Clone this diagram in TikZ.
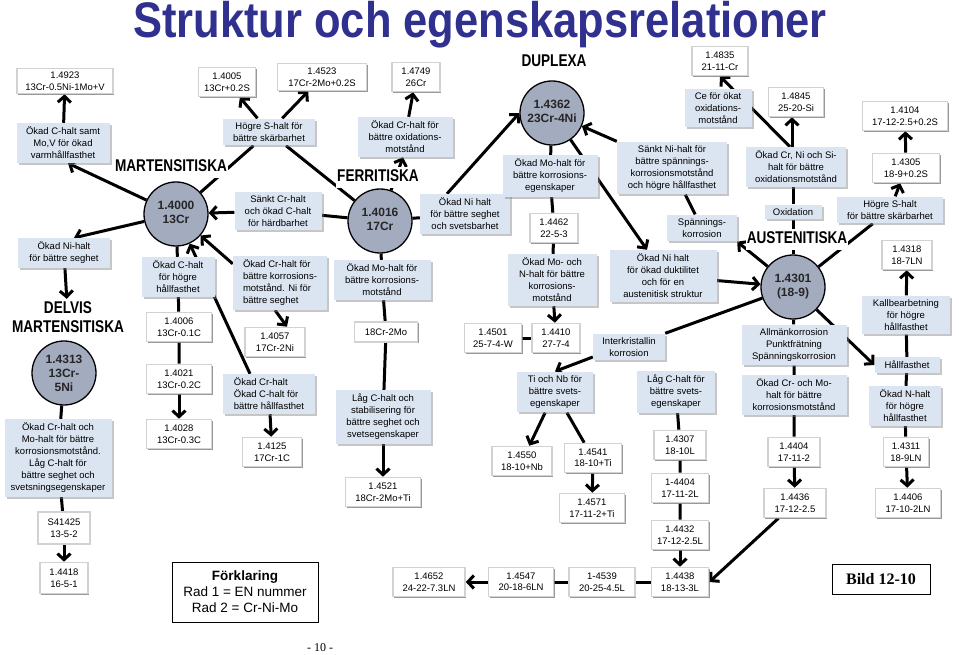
\documentclass[tikz,border=0pt]{standalone}
\usepackage{fontspec}
\usepackage{graphicx}
\setmainfont{Liberation Sans}
\newfontfamily\serifont{Liberation Serif}
\usetikzlibrary{positioning,shadows,arrows.meta,backgrounds}
\definecolor{notebg}{RGB}{219,229,241}
\definecolor{steelfill}{RGB}{163,171,191}
\definecolor{titleblue}{RGB}{48,48,143}
\newcommand{\narrow}[1]{\scalebox{0.8}[1]{\begin{tabular}{@{}c@{}}#1\end{tabular}}}
\newcommand{\lift}[1]{\raisebox{12pt}{\begin{tabular}{@{}c@{}}#1\end{tabular}}}

\begin{document}
\begin{tikzpicture}[x=1pt, y=-1pt,
    grade/.style={fill=white, draw=gray!35, line width=1.6pt, align=center, font=\fontsize{9.5}{11.5}\selectfont, inner xsep=4pt, inner ysep=1.5pt, minimum width=#1, minimum height=29, drop shadow={shadow xshift=1.3pt, shadow yshift=-1.3pt, opacity=0.8, fill=gray}},
    grade/.default=48,
    note/.style={fill=notebg, align=center, font=\fontsize{9.5}{12}\selectfont, inner xsep=4pt, inner ysep=4pt, minimum width=#1, drop shadow={shadow xshift=2pt, shadow yshift=-2pt, opacity=0.45, fill=gray}},
    note/.default=60,
    steel/.style={draw, circle, line width=1.3pt, fill=steelfill, minimum size=64pt, inner sep=0pt, align=center, font=\bfseries\fontsize{12}{14}\selectfont, text=black!85},
    group/.style={font=\bfseries\fontsize{17}{19}\selectfont, fill=white, inner sep=1pt},
    link/.style={line width=3pt},
    arr/.style={link, -{Straight Barb[length=6pt, width=13pt]}}
]
\useasboundingbox (0,0) rectangle (959,655);

% title
\node[anchor=base, text=titleblue, font=\bfseries\fontsize{50}{50}\selectfont] (title) at (480,38) {\scalebox{0.87}[1]{Struktur och egenskapsrelationer}};

% martensitiska
\node[grade=96, minimum height=25] (b4923) at (65,81) {1.4923\\13Cr-0.5Ni-1Mo+V};
\node[note=93] (n1) at (63,143) {Ökad C-halt samt\\Mo,V för ökad\\varmhållfasthet};
\node[group] (gMart) at (171,168) {\narrow{MARTENSITISKA}};
\node[steel] (c4000) at (176,214) {\lift{1.4000\\13Cr}};
\node[note=92] (n2) at (64,253) {Ökad Ni-halt\\för bättre seghet};
\node[group] (gDelvis) at (68,319) {\narrow{DELVIS\\MARTENSITISKA}};
\node[steel] (c4313) at (64,373) {1.4313\\13Cr-\\5Ni};
\node[note=107] (n3) at (58,458) {Ökad Cr-halt och\\Mo-halt för bättre\\korrosionsmotstånd.\\Låg C-halt för\\bättre seghet och\\svetsningsegenskaper};
\node[grade=52, minimum height=32] (bS41425) at (64,528) {S41425\\13-5-2};
\node[grade=48, minimum height=31] (b4418) at (64,578) {1.4418\\16-5-1};

\node[grade=57] (b4005) at (227,82) {1.4005\\13Cr+0.2S};
\node[grade=89, minimum height=27] (b4523) at (322,77) {1.4523\\17Cr-2Mo+0.2S};
\node[note=92] (n4) at (269,132) {Högre S-halt för\\bättre skärbarhet};
\node[note=87] (n5) at (278,211) {Sänkt Cr-halt\\och ökad C-halt\\för härdbarhet};
\node[note=73] (n6) at (178,277) {Ökad C-halt\\för högre\\hållfasthet};
\node[note=94, align=left] (n7) at (280,283) {Ökad Cr-halt för\\bättre korrosions-\\motstånd. Ni för\\bättre seghet};
\node[grade=65] (b4006) at (179,327) {1.4006\\13Cr-0.1C};
\node[grade=65] (b4021) at (179,379) {1.4021\\13Cr-0.2C};
\node[grade=65] (b4028) at (179,434) {1.4028\\13Cr-0.3C};
\node[grade=60] (b4057) at (275,342) {1.4057\\17Cr-2Ni};
\node[note=92, align=left] (n8) at (269,394) {Ökad Cr-halt\\Ökad C-halt för\\bättre hållfasthet};
\node[grade=59] (b4125) at (272,452) {1.4125\\17Cr-1C};

% ferritiska
\node[grade=48] (b4749) at (416,77) {1.4749\\26Cr};
\node[note=95] (n9) at (405,137) {Ökad Cr-halt för\\bättre oxidations-\\motstånd};
\node[group] (gFerr) at (378,178) {\narrow{FERRITISKA}};
\node[steel] (c4016) at (380,221) {\lift{1.4016\\17Cr}};
\node[note=90] (n10) at (465,214) {Ökad Ni halt\\för bättre seghet\\och svetsbarhet};
\node[note=97] (n11) at (382,280) {Ökad Mo-halt för\\bättre korrosions-\\motstånd};
\node[grade=63, minimum height=20] (b182) at (386,332) {18Cr-2Mo};
\node[note=95] (n12) at (383,417) {Låg C-halt och\\stabilisering för\\bättre seghet och\\svetsegenskaper};
\node[grade=75] (b4521) at (383,492) {1.4521\\18Cr-2Mo+Ti};

% duplexa
\node[group] (gDup) at (554,63) {\narrow{DUPLEXA}};
\node[steel] (c4362) at (552,113) {\lift{1.4362\\23Cr-4Ni}};
\node[note=95] (n13) at (550,176) {Ökad Mo-halt för\\bättre korrosions-\\egenskaper};
\node[grade=48] (b4462) at (554,228) {1.4462\\22-5-3};
\node[note=89] (n14) at (552,280) {Ökad Mo- och\\N-halt för bättre\\korrosions-\\motstånd};
\node[grade=57] (b4501) at (493,338) {1.4501\\25-7-4-W};
\node[grade=48] (b4410) at (556,338) {1.4410\\27-7-4};
\node[note=110] (n16) at (672,168) {Sänkt Ni-halt för\\bättre spännings-\\korrosionsmotstånd\\och högre hållfasthet};
\node[note=70] (n17) at (702,228) {Spännings-\\korrosion};
\node[note=107] (n15) at (663,276) {Ökad Ni halt\\för ökad duktilitet\\och för en\\austenitisk struktur};
\node[note=72] (n18) at (629,347) {Interkristallin\\korrosion};
\node[note=76] (n19) at (555,392) {Ti och Nb för\\bättre svets-\\egenskaper};
\node[grade=60] (b4550) at (522,461) {1.4550\\18-10+Nb};
\node[grade=57] (b4541) at (593,458) {1.4541\\18-10+Ti};
\node[grade=65] (b4571) at (592,508) {1.4571\\17-11-2+Ti};
\node[note=78] (n20) at (676,392) {Låg C-halt för\\bättre svets-\\egenskaper};
\node[grade=52] (b4307) at (680,445) {1.4307\\18-10L};
\node[grade=57] (b4404L) at (680,488) {1-4404\\17-11-2L};
\node[grade=57] (b4432) at (680,535) {1.4432\\17-12-2.5L};
\node[grade=57] (b4438) at (680,582) {1.4438\\18-13-3L};
\node[grade=66] (b4539) at (602,582) {1-4539\\20-25-4.5L};
\node[grade=65] (b4547) at (521,582) {1.4547\\20-18-6LN};
\node[grade=72] (b4652) at (429,582) {1.4652\\24-22-7.3LN};

% austenitiska
\node[grade=56] (b4835) at (720,61) {1.4835\\21-11-Cr};
\node[note=67] (n21) at (718,108) {Ce för ökat\\oxidations-\\motstånd};
\node[grade=55] (b4845) at (796,102) {1.4845\\25-20-Si};
\node[note=100] (n22) at (796,167) {Ökad Cr, Ni och Si-\\halt för bättre\\oxidationsmotstånd};
\node[note=57] (n23) at (793,212) {Oxidation};
\node[group] (gAust) at (797,240) {\narrow{AUSTENITISKA}};
\node[steel] (c4301) at (793,287) {\lift{1.4301\\(18-9)}};
\node[grade=85] (b4104) at (905,116) {1.4104\\17-12-2.5+0.2S};
\node[grade=67] (b4305) at (906,168) {1.4305\\18-9+0.2S};
\node[note=106] (n24) at (890,210) {Högre S-halt\\för bättre skärbarhet};
\node[grade=50] (b4318) at (907,255) {1.4318\\18-7LN};
\node[note=88] (n25) at (906,315) {Kallbearbetning\\för högre\\hållfasthet};
\node[note=65] (n26) at (907,365) {Hållfasthet};
\node[note=72] (n27) at (905,406) {Ökad N-halt\\för högre\\hållfasthet};
\node[grade=45] (b4311) at (906,452) {1.4311\\18-9LN};
\node[grade=65] (b4406) at (908,503) {1.4406\\17-10-2LN};
\node[note=105] (n28) at (794,345) {Allmänkorrosion\\Punktfrätning\\Spänningskorrosion};
\node[note=105] (n29) at (794,395) {Ökad Cr- och Mo-\\halt för bättre\\korrosionsmotstånd};
\node[grade=52] (b4404) at (794,452) {1.4404\\17-11-2};
\node[grade=62] (b4436) at (795,503) {1.4436\\17-12-2.5};

% legend and captions
\node[draw, line width=0.8pt, align=center, font=\fontsize{13.5}{16}\selectfont, minimum width=146, minimum height=60] (legend) at (245,592) {\textbf{Förklaring}\\Rad 1 = EN nummer\\Rad 2 = Cr-Ni-Mo};
\node[draw, line width=0.8pt, font=\serifont\bfseries\fontsize{16}{18}\selectfont, minimum width=98, minimum height=30] (bild) at (881,579) {Bild 12-10};
\node[font=\serifont\fontsize{12}{14}\selectfont] (page) at (320,648) {- 10 -};

% connectors behind the boxes
\begin{pgfonlayer}{background}
\draw[arr] (n1) -- (b4923);
\draw[arr] (c4000) -- ([xshift=5pt]n1.south);
\draw[arr] (c4000) -- ([xshift=10pt]n2.north);
\draw[arr] (n2) -- (gDelvis);
\draw[link] (c4313) -- (n3) -- (bS41425);
\draw[arr] (bS41425) -- (b4418);
\draw[link] (c4000) -- (n4);
\draw[link] (n4) -- (c4016);
\draw[arr] (n4) -- (b4005);
\draw[arr] (n4) -- (b4523);
\draw[link] (c4016) -- (n5);
\draw[arr] (n5) -- (c4000);
\draw[link] (c4000) -- (n6) -- (b4006) -- (b4021);
\draw[arr] (b4021) -- (b4028);
\draw[arr] ([yshift=-8pt]n7.north west) -- (c4000);
\draw[arr] ([xshift=-19pt]n8.north) -- (c4000);
\draw[arr] ([xshift=-5pt]n7.south) -- ([xshift=12pt]b4057.north);
\draw[arr] (n8) -- (b4125);

\draw[arr] (n9) -- (b4749);
\draw[arr] (c4016) -- ([xshift=-2pt]n9.south);
\draw[link] (c4016) -- (n10);
\draw[arr] ([xshift=-18pt]n10.north) -- (c4362.west);
\draw[link] (c4016) -- (n11) -- (b182) -- (n12);
\draw[arr] (n12) -- (b4521);

\draw[link] (c4362) -- (n13) -- (b4462) -- (n14);
\draw[arr] (n14) -- (b4410);
\draw[link] (b4501) -- (b4410);
\draw[arr] (c4362) -- ([xshift=-16pt]n15.north);
\draw[arr] (n16.north west) -- (c4362);
\draw[link] (n16) -- (n17);
\draw[arr] (c4301) -- (n17.south east);
\draw[arr] (n15) -- (c4301);
\draw[link] (c4301) -- (n18.north east);
\draw[arr] ([yshift=-10pt]n18.west) -- (n19.north);
\draw[arr] (n19) -- (b4550);
\draw[link] (n19) -- (b4541);
\draw[arr] (b4541) -- (b4571);
\draw[link] (n20) -- (b4307) -- (b4404L) -- (b4432);
\draw[arr] (b4432) -- (b4438);
\draw[link] (b4438) -- (b4539) -- (b4547);
\draw[arr] (b4547) -- (b4652);
\draw[arr] (b4436) -- (b4438.east);

\draw[arr] ([xshift=-6pt]n22.north) -- (b4835.south);
\draw[arr] ([xshift=-4pt]n22.north) -- ([xshift=-4pt]b4845.south);
\draw[link] (c4301) -- (n23) -- (n23 |- n22.south);
\draw[link] (c4301) -- (n24);
\draw[arr] (n24) -- (b4305);
\draw[arr] (b4305) -- (b4104);
\draw[arr] (n25) -- (b4318);
\draw[arr] (c4301) -- (n26.west);
\draw[link] (n25) -- (n26) -- (n27) -- (b4311);
\draw[arr] (b4311) -- (b4406);
\draw[link] (c4301) -- (n28) -- (n29) -- (b4404);
\draw[arr] (b4404) -- (b4436);
\end{pgfonlayer}
\end{tikzpicture}
\end{document}
